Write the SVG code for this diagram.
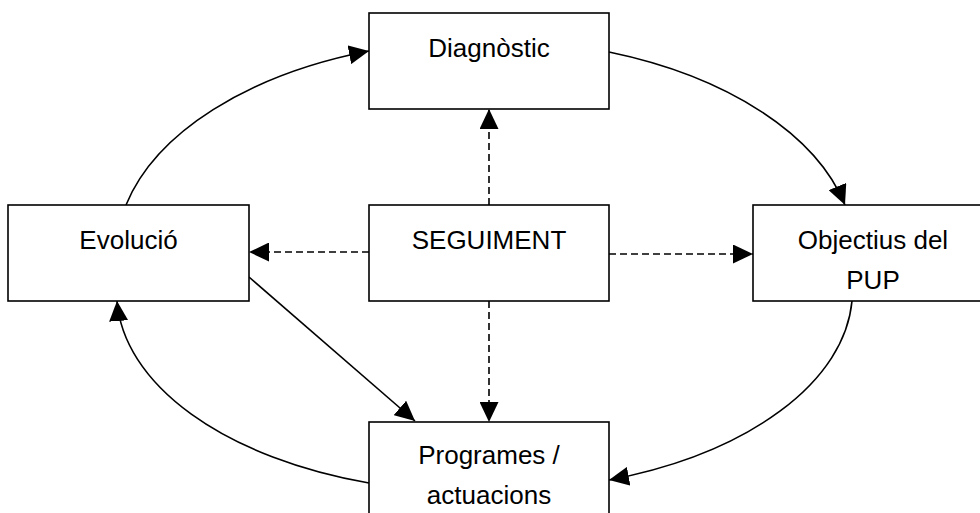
<svg xmlns="http://www.w3.org/2000/svg" width="980" height="513" viewBox="0 0 980 513">
  <style>
    .box { fill: #ffffff; stroke: #000000; stroke-width: 1.6; }
    .lbl { font-family: "Liberation Sans", Arial, sans-serif; font-size: 26px; fill: #000000; text-anchor: middle; }
    .con { fill: none; stroke: #000000; stroke-width: 1.6; }
    .dash { stroke-dasharray: 7 4; }
  </style>
  <defs>
    <marker id="arr" markerUnits="userSpaceOnUse" markerWidth="21" markerHeight="19" refX="20" refY="9.5" orient="auto">
      <path d="M0,0 L20,9.5 L0,19 Z" fill="#000000"/>
    </marker>
  </defs>
  <rect width="980" height="513" fill="#ffffff"/>
  <g id="connectors">
    <path class="con" d="M126,205 A370 215 0 0 1 369,51" marker-end="url(#arr)"/>
    <path class="con" d="M609,52 A370 215 0 0 1 845,205" marker-end="url(#arr)"/>
    <path class="con" d="M852,301 A360 200 0 0 1 609,480" marker-end="url(#arr)"/>
    <path class="con" d="M369,483 A360 200 0 0 1 117,301" marker-end="url(#arr)"/>
    <path class="con" d="M249,277 L415,421" marker-end="url(#arr)"/>
    <path class="con dash" d="M489,205 L489,109" marker-end="url(#arr)"/>
    <path class="con dash" d="M369,252 L249,252" marker-end="url(#arr)"/>
    <path class="con dash" d="M609,254 L753,254" marker-end="url(#arr)"/>
    <path class="con dash" d="M489,301 L489,422" marker-end="url(#arr)"/>
  </g>
  <g id="diagnostic">
    <rect class="box" x="369" y="13" width="240" height="96"/>
    <text class="lbl" x="489" y="57">Diagnòstic</text>
  </g>
  <g id="evolucio">
    <rect class="box" x="8" y="205" width="241" height="96"/>
    <text class="lbl" x="128.5" y="249">Evolució</text>
  </g>
  <g id="seguiment">
    <rect class="box" x="369" y="205" width="240" height="96"/>
    <text class="lbl" x="489" y="249">SEGUIMENT</text>
  </g>
  <g id="objectius">
    <rect class="box" x="753" y="205" width="240" height="96"/>
    <text class="lbl" x="873" y="249">Objectius del</text>
    <text class="lbl" x="873" y="289">PUP</text>
  </g>
  <g id="programes">
    <rect class="box" x="369" y="422" width="240" height="96"/>
    <text class="lbl" x="489" y="464">Programes /</text>
    <text class="lbl" x="489" y="504">actuacions</text>
  </g>
</svg>
